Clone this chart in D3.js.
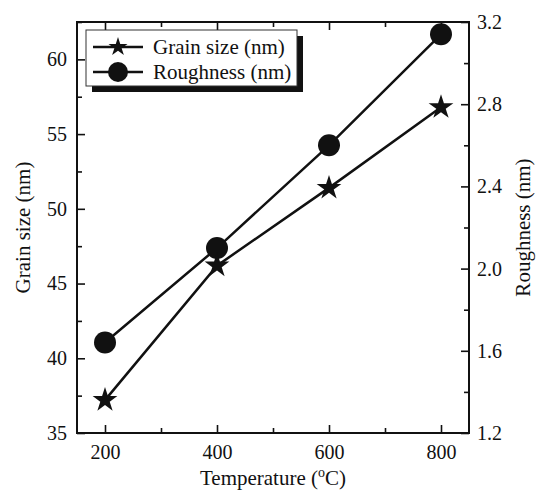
<!DOCTYPE html>
<html>
<head>
<meta charset="utf-8">
<script src="https://cdn.jsdelivr.net/npm/d3@7"></script>
<style>
  body { margin: 0; background: #fff; }
  text { font-family: "Liberation Serif", "Times New Roman", serif; fill: #111; }
</style>
</head>
<body>
<svg id="chart" width="537" height="491"></svg>
<script>
// data
const temperatures = [200, 400, 600, 800];
const grainSize = [37.2, 46.2, 51.4, 56.8];
const roughness = [1.64, 2.10, 2.60, 3.14];
const xTicks = [200, 400, 600, 800];
const grainTicks = [35, 40, 45, 50, 55, 60];
const roughTicks = [1.2, 1.6, 2.0, 2.4, 2.8, 3.2];

const svg = d3.select('#chart');
const plotLeft = 77, plotRight = 469, plotTop = 22, plotBottom = 433;

const x = d3.scaleLinear().domain([150, 850]).range([plotLeft, plotRight]);
const yL = d3.scaleLinear().domain([35, 62.5]).range([plotBottom, plotTop]);
const yR = d3.scaleLinear().domain([1.2, 3.2]).range([plotBottom, plotTop]);

const ink = '#111';

// axes with inward ticks
const major = 8, minor = 5;
function styleAxis(g) {
  g.select('.domain').remove();
  g.selectAll('.tick line').attr('stroke', ink).attr('stroke-width', 1.6);
  g.selectAll('.tick text').style('font-size', '20px').attr('fill', ink);
}

// bottom
svg.append('g').attr('transform', `translate(0,${plotBottom})`)
  .call(d3.axisBottom(x).tickValues(xTicks).tickSizeInner(-major).tickPadding(12).tickFormat(d3.format('d')))
  .call(styleAxis);
svg.append('g').attr('transform', `translate(0,${plotBottom})`)
  .call(d3.axisBottom(x).tickValues([300, 500, 700]).tickSizeInner(-minor).tickFormat(''))
  .call(styleAxis);
// top mirror
svg.append('g').attr('transform', `translate(0,${plotTop})`)
  .call(d3.axisTop(x).tickValues(xTicks).tickSizeInner(-major).tickFormat(''))
  .call(styleAxis);
svg.append('g').attr('transform', `translate(0,${plotTop})`)
  .call(d3.axisTop(x).tickValues([300, 500, 700]).tickSizeInner(-minor).tickFormat(''))
  .call(styleAxis);

// left
svg.append('g').attr('transform', `translate(${plotLeft},0)`)
  .call(d3.axisLeft(yL).tickValues(grainTicks).tickSizeInner(-major).tickPadding(10).tickFormat(d3.format('d')))
  .call(styleAxis);
svg.append('g').attr('transform', `translate(${plotLeft},0)`)
  .call(d3.axisLeft(yL).tickValues([37.5, 42.5, 47.5, 52.5, 57.5, 62.5]).tickSizeInner(-minor).tickFormat(''))
  .call(styleAxis);

// right
svg.append('g').attr('transform', `translate(${plotRight},0)`)
  .call(d3.axisRight(yR).tickValues(roughTicks).tickSizeInner(-major).tickPadding(8).tickFormat(d3.format('.1f')))
  .call(styleAxis);
svg.append('g').attr('transform', `translate(${plotRight},0)`)
  .call(d3.axisRight(yR).tickValues([1.4, 1.8, 2.2, 2.6, 3.0]).tickSizeInner(-minor).tickFormat(''))
  .call(styleAxis);

// frame
svg.append('rect')
  .attr('x', plotLeft).attr('y', plotTop)
  .attr('width', plotRight - plotLeft).attr('height', plotBottom - plotTop)
  .attr('fill', 'none').attr('stroke', ink).attr('stroke-width', 2);

// series
const grainData = temperatures.map((t, i) => ({ t, v: grainSize[i] }));
const roughData = temperatures.map((t, i) => ({ t, v: roughness[i] }));

svg.append('path').datum(grainData)
  .attr('fill', 'none').attr('stroke', ink).attr('stroke-width', 2.5)
  .attr('d', d3.line().x(d => x(d.t)).y(d => yL(d.v)));
svg.append('path').datum(roughData)
  .attr('fill', 'none').attr('stroke', ink).attr('stroke-width', 2.5)
  .attr('d', d3.line().x(d => x(d.t)).y(d => yR(d.v)));

const circleSym = d3.symbol().type(d3.symbolCircle).size(Math.PI * 11 * 11);
const starSym = d3.symbol().type(d3.symbolStar).size(13 * 13 / 0.8908130915292852);

svg.selectAll('.rough').data(roughData).enter().append('path')
  .attr('class', 'rough')
  .attr('transform', d => `translate(${x(d.t)},${yR(d.v)})`)
  .attr('d', circleSym).attr('fill', ink);
svg.selectAll('.grain').data(grainData).enter().append('path')
  .attr('class', 'grain')
  .attr('transform', d => `translate(${x(d.t)},${yL(d.v)})`)
  .attr('d', starSym).attr('fill', ink);

// legend
const lg = svg.append('g').attr('transform', 'translate(86,30)');
lg.append('rect').attr('x', 6).attr('y', 6).attr('width', 211).attr('height', 56).attr('fill', ink);
lg.append('rect').attr('x', 0).attr('y', 0).attr('width', 211).attr('height', 56)
  .attr('fill', '#fff').attr('stroke', '#333').attr('stroke-width', 1);
const legendItems = [
  { label: 'Grain size (nm)', sym: d3.symbol().type(d3.symbolStar).size(10 * 10 / 0.8908130915292852) },
  { label: 'Roughness (nm)', sym: d3.symbol().type(d3.symbolCircle).size(Math.PI * 10 * 10) }
];
legendItems.forEach((it, i) => {
  const cy = 17 + i * 25;
  lg.append('line').attr('x1', 7).attr('x2', 57).attr('y1', cy).attr('y2', cy)
    .attr('stroke', ink).attr('stroke-width', 2.5);
  lg.append('path').attr('transform', `translate(32,${cy})`).attr('d', it.sym).attr('fill', ink);
  lg.append('text').attr('x', 67).attr('y', cy + 7).style('font-size', '21px').text(it.label);
});

// axis titles
svg.append('text')
  .attr('transform', `translate(30,${(plotTop + plotBottom) / 2}) rotate(-90)`)
  .attr('text-anchor', 'middle').style('font-size', '21px')
  .text('Grain size (nm)');
svg.append('text')
  .attr('transform', `translate(530,${(plotTop + plotBottom) / 2}) rotate(-90)`)
  .attr('text-anchor', 'middle').style('font-size', '21px')
  .text('Roughness (nm)');
const xt = svg.append('text')
  .attr('x', (plotLeft + plotRight) / 2).attr('y', 485)
  .attr('text-anchor', 'middle').style('font-size', '21px');
xt.append('tspan').text('Temperature (');
xt.append('tspan').attr('dy', -8).style('font-size', '14px').text('o');
xt.append('tspan').attr('dy', 8).text('C)');
</script>
</body>
</html>
